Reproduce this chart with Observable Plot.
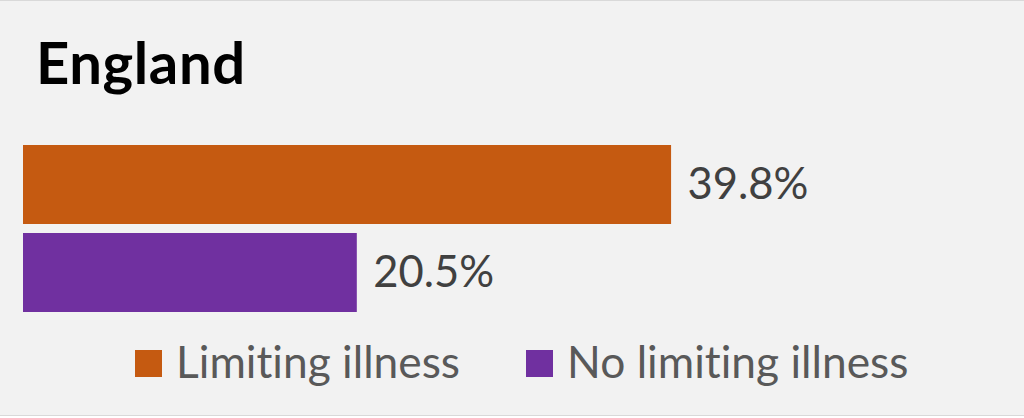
<!DOCTYPE html>
<html>
<head>
<meta charset="utf-8">
<script src="https://cdn.jsdelivr.net/npm/d3@7"></script>
<script src="https://cdn.jsdelivr.net/npm/@observablehq/plot@0.6"></script>
<style>
  html, body { margin: 0; padding: 0; background: #ffffff; }
  #wrap {
    position: relative; width: 1024px; height: 414px;
    background: #f2f2f2; border-top: 1px solid #d9d9d9; border-bottom: 1px solid #d9d9d9;
    overflow: hidden; font-family: Lato, "Open Sans", sans-serif;
    font-variant-ligatures: none;
  }
  #title {
    position: absolute; left: 36px; top: 32px; font-size: 58px; font-weight: 700;
    color: #000; line-height: 1; letter-spacing: 0.6px;
  }
  #chart { position: absolute; left: 0; top: -1px; }
  #legend {
    position: absolute; top: 333px; left: 135px; display: flex;
    align-items: center; gap: 66px; font-size: 44.3px; color: #595959;
  }
  .item { display: flex; align-items: center; }
  .sw { width: 27px; height: 27px; margin-right: 14px; margin-top: 5px; }
</style>
</head>
<body>
<div id="wrap">
  <div id="title">England</div>
  <div id="chart"></div>
  <div id="legend"></div>
</div>
<script>
const categories = ["Limiting illness", "No limiting illness"];
const values = [39.8, 20.5];
const colors = ["#c55a11", "#7030a0"];
const labels = ["39.8%", "20.5%"];

const data = categories.map((c, i) => ({category: c, value: values[i], label: labels[i]}));

const plot = Plot.plot({
  width: 1024,
  height: 418,
  marginLeft: 23,
  marginRight: 24,
  marginTop: 136,
  marginBottom: 97,
  style: {background: "transparent", fontFamily: "Lato, 'Open Sans', sans-serif"},
  x: {domain: [0, 60], axis: null},
  y: {domain: categories, axis: null, padding: 0.1},
  color: {domain: categories, range: colors},
  marks: [
    Plot.barX(data, {x: "value", y: "category", fill: "category"}),
    Plot.text(data, {x: "value", y: "category", text: "label", textAnchor: "start", dx: 16, fill: "#404040", fontSize: 43.5})
  ]
});
document.getElementById("chart").appendChild(plot);

const legend = document.getElementById("legend");
categories.forEach((c, i) => {
  const item = document.createElement("div");
  item.className = "item";
  const sw = document.createElement("div");
  sw.className = "sw";
  sw.style.background = colors[i];
  const t = document.createElement("span");
  t.textContent = c;
  item.appendChild(sw);
  item.appendChild(t);
  legend.appendChild(item);
});
</script>
</body>
</html>
